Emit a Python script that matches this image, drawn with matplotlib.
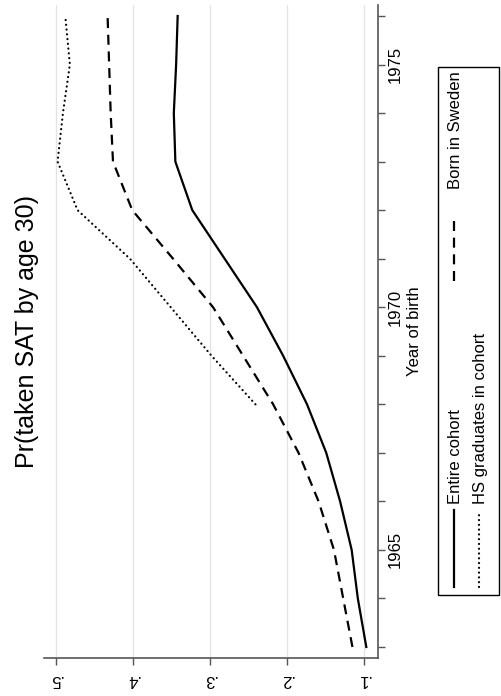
import numpy as np
import matplotlib
matplotlib.use('Agg')
import matplotlib.pyplot as plt
from matplotlib.patches import Rectangle
from matplotlib.lines import Line2D

plt.rcParams['font.family'] = ['Liberation Sans', 'DejaVu Sans']

# cohort shares taking the SAT by age 30
years = list(range(1963, 1977))
entire_cohort = [0.097, 0.108, 0.116, 0.131, 0.149, 0.174, 0.205, 0.239,
                 0.281, 0.323, 0.345, 0.347, 0.344, 0.342]
born_in_sweden = [0.115, 0.127, 0.139, 0.159, 0.185, 0.218, 0.257, 0.296,
                  0.348, 0.401, 0.426, 0.429, 0.431, 0.433]
hs_years = list(range(1968, 1977))
hs_graduates = [0.241, 0.298, 0.351, 0.404, 0.472, 0.498, 0.491, 0.482, 0.488]

value_ticks = [0.1, 0.2, 0.3, 0.4, 0.5]
value_labels = ['.1', '.2', '.3', '.4', '.5']
year_labels = {1965: '1965', 1970: '1970', 1975: '1975'}

W, H = 501, 696
fig = plt.figure(figsize=(W / 100, H / 100), dpi=100)
fig.patch.set_facecolor('white')

# plot is laid out sideways: years run up the page, shares run right-to-left
ax = fig.add_axes([44 / W, (H - 658) / H, (378 - 44) / W, (658 - 5) / H])
axis_col = '#555555'
lw = 1.6
dot_style = dict(linestyle=(0, (0.05, 2.1)), dash_capstyle='round')

ax.plot(entire_cohort, years, color='black', lw=lw, solid_joinstyle='miter')
ax.plot(born_in_sweden, years, color='black', lw=lw, dashes=(4.5, 3.0))
ax.plot(hs_graduates, hs_years, color='black', lw=lw, **dot_style)

ax.set_xlim(0.5156, 0.0818)
ax.set_ylim(1962.773, 1976.227)

ax.set_xticks(value_ticks)
ax.set_xticklabels(value_labels, rotation=180, fontsize=12)
ax.set_yticks(years)
ax.set_yticklabels([year_labels.get(y, '') for y in years], rotation=90,
                   va='center', fontsize=12)
ax.yaxis.tick_right()

ax.xaxis.grid(True, color='#e3e3e3', lw=0.9)
ax.set_axisbelow(True)

for side in ['left', 'top']:
    ax.spines[side].set_visible(False)
for side in ['bottom', 'right']:
    ax.spines[side].set_color(axis_col)
    ax.spines[side].set_linewidth(1.2)
ax.tick_params(axis='x', direction='out', length=5, width=1.0, color=axis_col,
               pad=5)
ax.tick_params(axis='y', direction='out', length=5, width=1.0, color=axis_col,
               pad=2)

# overlay in pixel units for title, axis title and legend
ov = fig.add_axes([0, 0, 1, 1])
ov.set_xlim(0, W)
ov.set_ylim(H, 0)
ov.axis('off')
ov.patch.set_alpha(0)

ov.text(27, 332, 'Pr(taken SAT by age 30)', rotation=90, fontsize=18,
        ha='center', va='center')
ov.text(415, 331, 'Year of birth', rotation=90, fontsize=12,
        ha='center', va='center')

ov.add_patch(Rectangle((438, 67), 61, 528, fill=False, ec='black', lw=1.0))
ov.add_line(Line2D([454, 454], [587, 510], color='black', lw=lw))
ov.add_line(Line2D([479, 479], [587, 512], color='black', lw=lw, **dot_style))
ov.add_line(Line2D([454, 454], [281, 219], color='black', lw=lw,
                   dashes=(4.5, 3.0)))
ov.text(456, 504, 'Entire cohort', rotation=90, fontsize=12,
        ha='center', va='bottom')
ov.text(481, 504, 'HS graduates in cohort', rotation=90, fontsize=12,
        ha='center', va='bottom')
ov.text(456, 189, 'Born in Sweden', rotation=90, fontsize=12,
        ha='center', va='bottom')

fig.savefig('out.png', dpi=100, facecolor='white')
